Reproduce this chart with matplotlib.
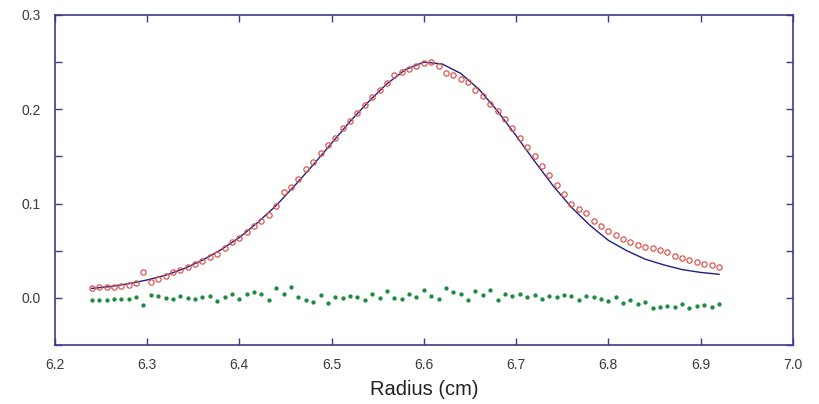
import matplotlib.pyplot as plt
import matplotlib.ticker as ticker

# radius grid of the scans (cm)
radius = [6.240, 6.248, 6.256, 6.264, 6.272, 6.280, 6.288, 6.296, 6.304, 6.312,
          6.320, 6.328, 6.336, 6.344, 6.352, 6.360, 6.368, 6.376, 6.384, 6.392,
          6.400, 6.408, 6.416, 6.424, 6.432, 6.440, 6.448, 6.456, 6.464, 6.472,
          6.480, 6.488, 6.496, 6.504, 6.512, 6.520, 6.528, 6.536, 6.544, 6.552,
          6.560, 6.568, 6.576, 6.584, 6.592, 6.600, 6.608, 6.616, 6.624, 6.632,
          6.640, 6.648, 6.656, 6.664, 6.672, 6.680, 6.688, 6.696, 6.704, 6.712,
          6.720, 6.728, 6.736, 6.744, 6.752, 6.760, 6.768, 6.776, 6.784, 6.792,
          6.800, 6.808, 6.816, 6.824, 6.832, 6.840, 6.848, 6.856, 6.864, 6.872,
          6.880, 6.888, 6.896, 6.904, 6.912, 6.920]

absorb = [0.010, 0.011, 0.012, 0.012, 0.013, 0.014, 0.016, 0.027, 0.017, 0.020,
          0.023, 0.027, 0.030, 0.033, 0.036, 0.039, 0.043, 0.047, 0.053, 0.059,
          0.063, 0.070, 0.076, 0.082, 0.088, 0.097, 0.112, 0.118, 0.126, 0.137,
          0.144, 0.154, 0.162, 0.170, 0.180, 0.188, 0.196, 0.204, 0.213, 0.220,
          0.228, 0.236, 0.240, 0.243, 0.246, 0.249, 0.250, 0.246, 0.238, 0.236,
          0.232, 0.229, 0.220, 0.214, 0.206, 0.198, 0.190, 0.180, 0.170, 0.160,
          0.150, 0.140, 0.130, 0.120, 0.110, 0.100, 0.094, 0.090, 0.082, 0.076,
          0.071, 0.067, 0.062, 0.059, 0.056, 0.054, 0.053, 0.051, 0.049, 0.044,
          0.042, 0.040, 0.038, 0.036, 0.035, 0.033]

resid = [-0.002, -0.002, -0.002, -0.001, -0.001, -0.001, 0.001, -0.008, 0.003, 0.002,
         0.000, -0.001, 0.002, 0.000, -0.001, 0.001, 0.002, -0.003, 0.001, 0.004,
         -0.001, 0.004, 0.006, 0.004, -0.002, 0.010, 0.004, 0.011, 0.001, -0.002,
         -0.004, 0.003, -0.005, 0.001, 0.000, 0.002, 0.001, -0.002, 0.004, 0.000,
         0.007, 0.000, -0.001, 0.004, 0.001, 0.008, 0.002, -0.001, 0.010, 0.006,
         0.004, -0.002, 0.007, 0.003, 0.008, -0.002, 0.004, 0.002, 0.004, 0.001,
         0.003, -0.001, 0.002, 0.001, 0.003, 0.002, -0.002, 0.002, 0.001, -0.001,
         -0.003, 0.001, -0.005, -0.002, -0.006, -0.004, -0.011, -0.010, -0.009, -0.010,
         -0.006, -0.011, -0.009, -0.008, -0.010, -0.007]

# fitted curve
fit_r = [6.24, 6.26, 6.28, 6.30, 6.32, 6.34, 6.36, 6.38, 6.40, 6.42, 6.44, 6.46,
         6.48, 6.50, 6.52, 6.54, 6.56, 6.58, 6.60, 6.62, 6.64, 6.66, 6.68, 6.70,
         6.72, 6.74, 6.76, 6.78, 6.80, 6.82, 6.84, 6.86, 6.88, 6.90, 6.92]
fit_a = [0.010, 0.012, 0.015, 0.019, 0.024, 0.031, 0.040, 0.051, 0.064, 0.080,
         0.098, 0.119, 0.141, 0.164, 0.187, 0.208, 0.227, 0.242, 0.250, 0.248,
         0.238, 0.221, 0.198, 0.172, 0.145, 0.119, 0.096, 0.077, 0.061, 0.050,
         0.041, 0.035, 0.030, 0.027, 0.025]

plt.rcParams['font.family'] = ['Liberation Sans', 'DejaVu Sans']
axcol = '#3c3c88'

fig = plt.figure(figsize=(8.19, 4.04), dpi=100)
ax = fig.add_axes([0.067, 0.146, 0.901, 0.817])

ax.plot(fit_r, fit_a, '-', color='#1f1f80', lw=1.0, zorder=2)
ax.plot(radius, absorb, 'o', mfc='none', mec='#e0554f', ms=3.8, mew=0.9, zorder=3)
ax.plot(radius, resid, 'o', color='#1e8c40', ms=3.1, mew=0, zorder=3)

ax.set_xlim(6.2, 7.0)
ax.set_ylim(-0.05, 0.3)
ax.xaxis.set_major_locator(ticker.MultipleLocator(0.1))
ax.yaxis.set_major_locator(ticker.MultipleLocator(0.1))
ax.yaxis.set_minor_locator(ticker.MultipleLocator(0.05))
ax.xaxis.set_major_formatter(ticker.FormatStrFormatter('%.1f'))
ax.yaxis.set_major_formatter(ticker.FormatStrFormatter('%.1f'))
ax.tick_params(which='both', direction='in', top=True, right=True,
               color=axcol, width=1.0, labelsize=10, labelcolor='#3a3a3a')
ax.tick_params(axis='y', pad=10)
ax.tick_params(axis='x', pad=9)
ax.tick_params(which='major', length=5)
ax.tick_params(which='minor', length=5)
for s in ax.spines.values():
    s.set_color(axcol)
    s.set_linewidth(1.2)

ax.set_xlabel("Radius (cm)", fontsize=14.5, color='#222222', labelpad=6)

plt.savefig("out.png", dpi=100)
plt.close("all")
